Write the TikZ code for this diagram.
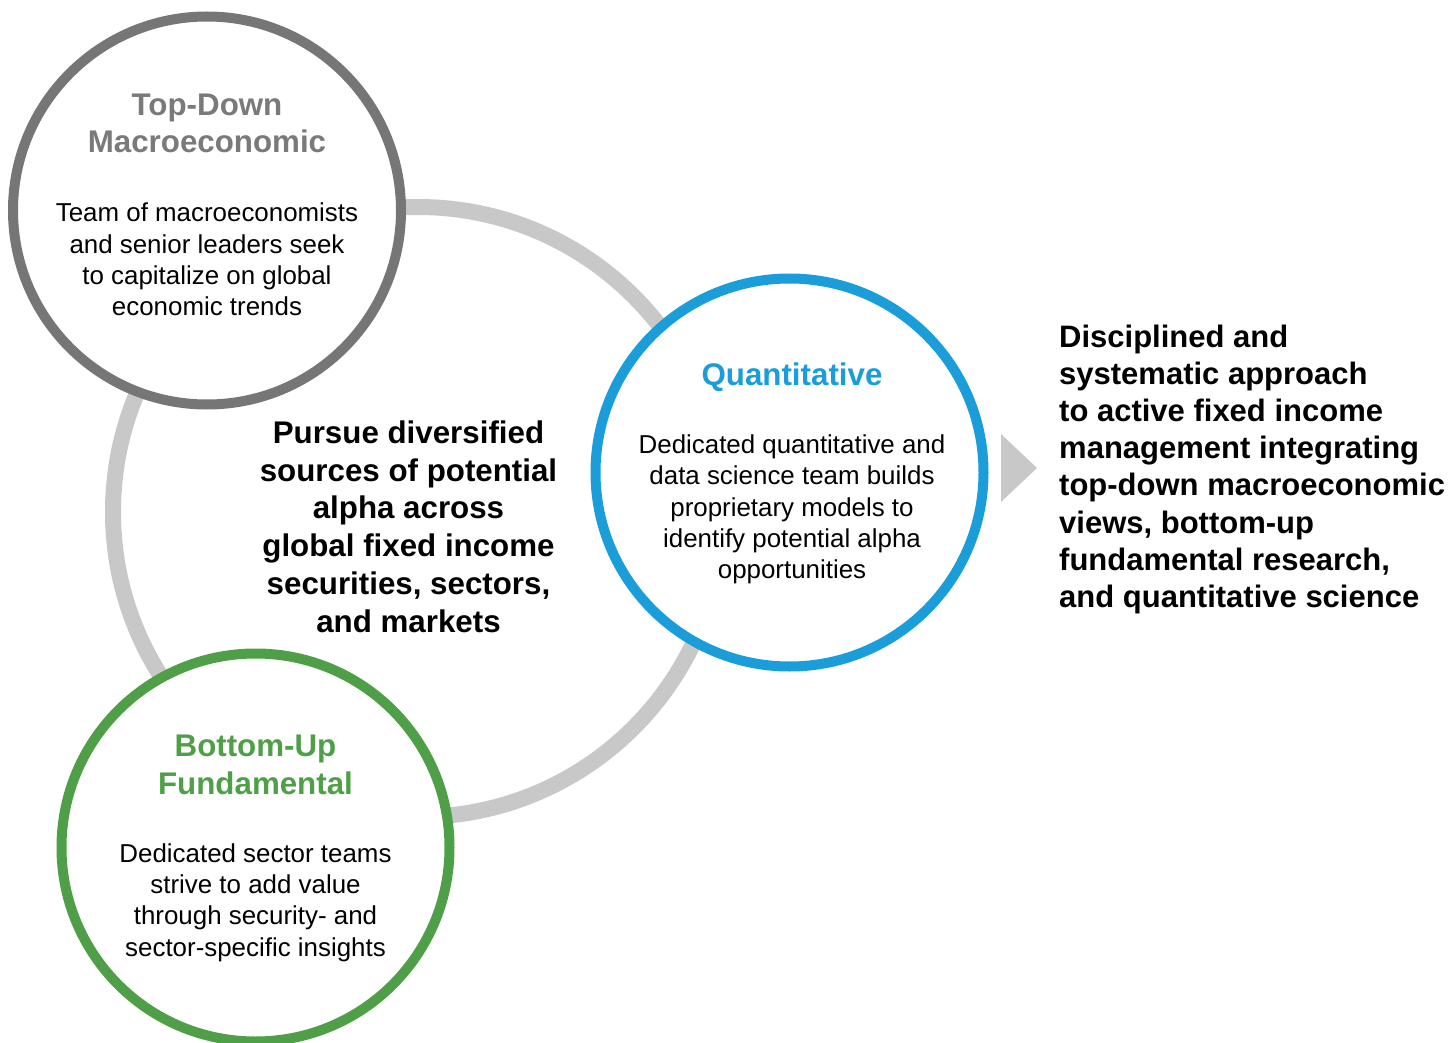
\documentclass[tikz,border=0pt]{standalone}
\usepackage{fontspec}
\setmainfont{Liberation Sans}
\definecolor{ringgray}{HTML}{C8C8C8}
\definecolor{tdgray}{HTML}{767676}
\definecolor{tdtext}{HTML}{7A7A7A}
\definecolor{qblue}{HTML}{1B9DD9}
\definecolor{bgreen}{HTML}{4E9F47}
\tikzset{
  bubble/.style={circle, draw, line width=10pt, fill=white, minimum size=388pt, inner sep=0pt},
  ringstyle/.style={circle, draw=ringgray, line width=16pt, minimum size=610pt, inner sep=0pt},
  headtxt/.style={font=\fontsize{31.3}{37.7}\selectfont\bfseries, align=center, anchor=base, inner sep=0pt},
  bodytxt/.style={font=\fontsize{25.9}{31.2}\selectfont, align=center, anchor=base, inner sep=0pt},
  sidetxt/.style={font=\fontsize{31}{37.2}\selectfont\bfseries, align=left, anchor=base west, inner sep=0pt},
}
\begin{document}
\begin{tikzpicture}[x=1pt,y=-1pt]
\useasboundingbox (0,0) rectangle (1452,1043);
\node[ringstyle] (ring) at (418,512) {};
\node[bubble, draw=tdgray] (td) at (207,210.5) {};
\node[bubble, draw=qblue] (qt) at (789.5,472.5) {};
\node[bubble, draw=bgreen] (bu) at (255.5,847.5) {};

% anchors are at the baseline of the last line
\node[headtxt, text=tdtext] (tdhead) at (207,153) {Top-Down\\Macroeconomic};
\node[bodytxt] (tdbody) at (207,315.5) {Team of macroeconomists\\and senior leaders seek\\to capitalize on global\\economic trends};

\node[headtxt, text=qblue] (qthead) at (792,385) {Quantitative};
\node[bodytxt] (qtbody) at (792,578.5) {Dedicated quantitative and\\data science team builds\\proprietary models to\\identify potential alpha\\opportunities};

\node[headtxt, text=bgreen] (buhead) at (255.5,794) {Bottom-Up\\Fundamental};
\node[bodytxt] (bubody) at (255.5,956) {Dedicated sector teams\\strive to add value\\through security- and\\sector-specific insights};

\node[headtxt] (center) at (408.5,632) {Pursue diversified\\sources of potential\\alpha across\\global fixed income\\securities, sectors,\\and markets};

\coordinate (a1) at (1001,434);
\coordinate (a2) at (1037,468);
\coordinate (a3) at (1001,502);
\fill[ringgray] (a1) -- (a2) -- (a3) -- cycle;

\node[sidetxt] (side) at (1059,607.5) {Disciplined and\\systematic approach\\to active fixed income\\management integrating\\top-down macroeconomic\\views, bottom-up\\fundamental research,\\and quantitative science};
\end{tikzpicture}
\end{document}
